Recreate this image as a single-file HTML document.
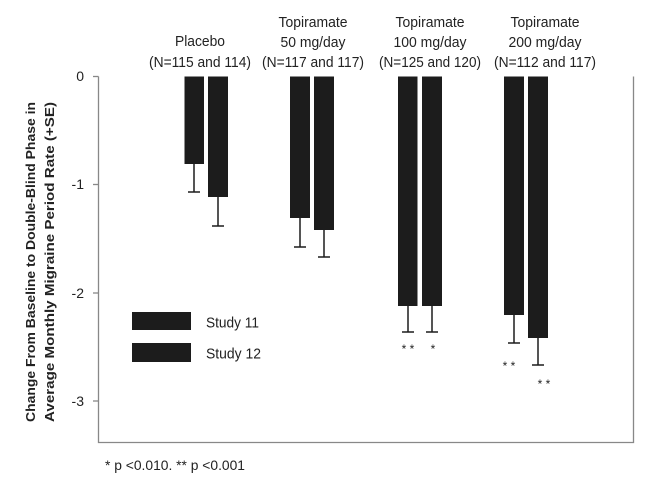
<!DOCTYPE html>
<html><head><style>html,body{margin:0;padding:0;background:#fff}</style></head>
<body>
<svg width="647" height="492" xmlns="http://www.w3.org/2000/svg" font-family="Liberation Sans, sans-serif" fill="#222">
<rect width="647" height="492" fill="#fff"/>
<polyline points="98.5,76.5 98.5,442.5 633.5,442.5 633.5,76.5" fill="none" stroke="#888" stroke-width="1.3"/>
<g stroke="#888" stroke-width="1.3">
<line x1="93" y1="76.5" x2="98.5" y2="76.5"/>
<line x1="93" y1="184.5" x2="98.5" y2="184.5"/>
<line x1="93" y1="293" x2="98.5" y2="293"/>
<line x1="93" y1="401" x2="98.5" y2="401"/>
</g>
<g font-size="14" text-anchor="end">
<text x="84" y="81">0</text>
<text x="84" y="189">-1</text>
<text x="84" y="298">-2</text>
<text x="84" y="406">-3</text>
</g>
<g fill="#1c1c1c">
<rect x="184.5" y="76.5" width="19.5" height="87.5"/>
<rect x="208" y="76.5" width="20" height="120.5"/>
<rect x="290" y="76.5" width="20" height="141.5"/>
<rect x="314" y="76.5" width="20" height="153.5"/>
<rect x="398" y="76.5" width="19.5" height="229.5"/>
<rect x="422" y="76.5" width="20" height="229.5"/>
<rect x="504" y="76.5" width="20" height="238.5"/>
<rect x="528" y="76.5" width="20" height="261.5"/>
</g>
<g stroke="#1c1c1c" stroke-width="1.5">
<line x1="194" y1="164" x2="194" y2="192"/><line x1="188" y1="192" x2="200" y2="192"/>
<line x1="218" y1="197" x2="218" y2="226"/><line x1="212" y1="226" x2="224" y2="226"/>
<line x1="300" y1="218" x2="300" y2="247"/><line x1="294" y1="247" x2="306" y2="247"/>
<line x1="324" y1="230" x2="324" y2="257"/><line x1="318" y1="257" x2="330" y2="257"/>
<line x1="408" y1="306" x2="408" y2="332"/><line x1="402" y1="332" x2="414" y2="332"/>
<line x1="432" y1="306" x2="432" y2="332"/><line x1="426" y1="332" x2="438" y2="332"/>
<line x1="514" y1="315" x2="514" y2="343"/><line x1="508" y1="343" x2="520" y2="343"/>
<line x1="538" y1="338" x2="538" y2="365"/><line x1="532" y1="365" x2="544" y2="365"/>
</g>
<g font-size="12" text-anchor="middle">
<text x="408" y="353">* *</text>
<text x="433" y="353">*</text>
<text x="509" y="370">* *</text>
<text x="544" y="388">* *</text>
</g>
<rect x="132" y="312" width="59" height="18" fill="#1c1c1c"/>
<rect x="132" y="343" width="59" height="19" fill="#1c1c1c"/>
<text x="206" y="327.5" font-size="14.5" textLength="53" lengthAdjust="spacingAndGlyphs">Study 11</text>
<text x="206" y="358.5" font-size="14.5" textLength="55" lengthAdjust="spacingAndGlyphs">Study 12</text>
<g font-size="14.5" text-anchor="middle">
<text x="200" y="46" textLength="50" lengthAdjust="spacingAndGlyphs">Placebo</text>
<text x="200" y="67" textLength="102" lengthAdjust="spacingAndGlyphs">(N=115 and 114)</text>
<text x="313" y="27" textLength="69" lengthAdjust="spacingAndGlyphs">Topiramate</text>
<text x="313" y="47" textLength="65" lengthAdjust="spacingAndGlyphs">50 mg/day</text>
<text x="313" y="67" textLength="102" lengthAdjust="spacingAndGlyphs">(N=117 and 117)</text>
<text x="430" y="27" textLength="69" lengthAdjust="spacingAndGlyphs">Topiramate</text>
<text x="430" y="47" textLength="73" lengthAdjust="spacingAndGlyphs">100 mg/day</text>
<text x="430" y="67" textLength="102" lengthAdjust="spacingAndGlyphs">(N=125 and 120)</text>
<text x="545" y="27" textLength="69" lengthAdjust="spacingAndGlyphs">Topiramate</text>
<text x="545" y="47" textLength="73" lengthAdjust="spacingAndGlyphs">200 mg/day</text>
<text x="545" y="67" textLength="102" lengthAdjust="spacingAndGlyphs">(N=112 and 117)</text>
</g>
<g font-size="13" font-weight="bold" text-anchor="middle">
<text transform="translate(35,262) rotate(-90)" textLength="320" lengthAdjust="spacingAndGlyphs">Change From Baseline to Double-Blind Phase in</text>
<text transform="translate(54,262) rotate(-90)" textLength="320" lengthAdjust="spacingAndGlyphs">Average Monthly Migraine Period Rate (+SE)</text>
</g>
<text x="105" y="470" font-size="14" textLength="140" lengthAdjust="spacingAndGlyphs">* p &lt;0.010. ** p &lt;0.001</text>
</svg>
</body></html>
